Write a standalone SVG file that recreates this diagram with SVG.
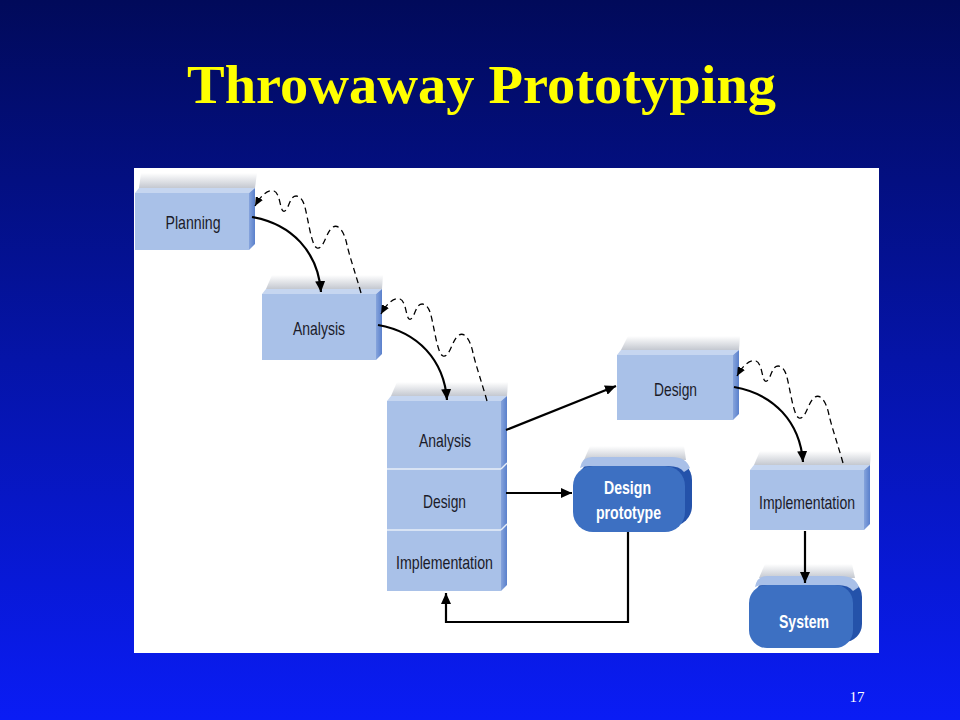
<svg xmlns="http://www.w3.org/2000/svg" width="960" height="720" viewBox="0 0 960 720">
<defs>
<linearGradient id="bg" x1="0" y1="0" x2="0" y2="1">
<stop offset="0" stop-color="#010a5a"/>
<stop offset="0.5" stop-color="#0514a8"/>
<stop offset="1" stop-color="#0a1cf5"/>
</linearGradient>
<linearGradient id="shade" x1="0" y1="0" x2="0" y2="1">
<stop offset="0" stop-color="#ffffff"/>
<stop offset="1" stop-color="#c4c8d0"/>
</linearGradient>
<linearGradient id="side" x1="0" y1="0" x2="1" y2="0">
<stop offset="0" stop-color="#86a4dc"/>
<stop offset="1" stop-color="#5a80cc"/>
</linearGradient>
<marker id="ah" markerUnits="userSpaceOnUse" markerWidth="12" markerHeight="10" refX="11" refY="5" orient="auto">
<path d="M0,0 L11,5 L0,10 Z" fill="#000"/>
</marker>
<marker id="ahs" markerUnits="userSpaceOnUse" markerWidth="10" markerHeight="8" refX="9" refY="4" orient="auto">
<path d="M0,0 L9,4 L0,8 Z" fill="#000"/>
</marker>
</defs>
<style>
.front{fill:#a9c1e8}
.top{fill:#c6d6f0}
.sidef{fill:url(#side)}
.shadow{fill:url(#shade)}
.lbl{font-family:"Liberation Sans",Arial,sans-serif;font-size:18.5px;fill:#1b1b28;text-anchor:middle}
.wl{font-family:"Liberation Sans",Arial,sans-serif;font-size:19px;font-weight:bold;fill:#ffffff;text-anchor:middle}
.pfront{fill:#3d70c2}
.ptop{fill:#a9c0e8}
.pside{fill:#2452aa}
.solid{fill:none;stroke:#000;stroke-width:2.2}
.dash{fill:none;stroke:#000;stroke-width:1.3;stroke-dasharray:6 4}
</style>
<rect x="0" y="0" width="960" height="720" fill="url(#bg)"/>
<text x="481.5" y="103" font-family="'Liberation Serif','Times New Roman',serif" font-size="54" font-weight="bold" fill="#ffff00" text-anchor="middle" textLength="589" lengthAdjust="spacingAndGlyphs">Throwaway Prototyping</text>
<rect x="134" y="168" width="745" height="485" fill="#ffffff"/>

<g id="planning">
<polygon class="shadow" points="141,173 257,173 255,188 139,188"/>
<polygon class="top" points="139,188 255,188 249,193 135,193"/>
<polygon class="sidef" points="249,193 255,188 255,244 249,250"/>
<rect class="front" x="135" y="193" width="114" height="57"/>
<text class="lbl" x="193" y="229" textLength="55" lengthAdjust="spacingAndGlyphs">Planning</text>
</g>

<g id="analysis1">
<polygon class="shadow" points="272,275 383,275 382,289 266,289"/>
<polygon class="top" points="266,289 382,289 376,294 262,294"/>
<polygon class="sidef" points="376,294 382,289 382,354 376,360"/>
<rect class="front" x="262" y="294" width="114" height="66"/>
<text class="lbl" x="319" y="335" textLength="52" lengthAdjust="spacingAndGlyphs">Analysis</text>
</g>

<g id="stack">
<polygon class="shadow" points="397,382 508,382 507,396 391,396"/>
<polygon class="top" points="391,396 507,396 501,401 387,401"/>
<polygon class="sidef" points="501,401 507,396 507,585 501,591"/>
<rect class="front" x="387" y="401" width="114" height="190"/>
<line x1="387" y1="469" x2="501" y2="469" stroke="#e8eef8" stroke-width="1.5"/>
<line x1="501" y1="469" x2="507" y2="463" stroke="#e8eef8" stroke-width="1.5"/>
<line x1="387" y1="530" x2="501" y2="530" stroke="#e8eef8" stroke-width="1.5"/>
<line x1="501" y1="530" x2="507" y2="524" stroke="#e8eef8" stroke-width="1.5"/>
<text class="lbl" x="445" y="447" textLength="52" lengthAdjust="spacingAndGlyphs">Analysis</text>
<text class="lbl" x="444.5" y="508" textLength="43" lengthAdjust="spacingAndGlyphs">Design</text>
<text class="lbl" x="444.5" y="569" textLength="97" lengthAdjust="spacingAndGlyphs">Implementation</text>
</g>

<g id="design2">
<polygon class="shadow" points="628,336 740,336 739,350 621,350"/>
<polygon class="top" points="621,350 739,350 733,355 617,355"/>
<polygon class="sidef" points="733,355 739,350 739,414 733,420"/>
<rect class="front" x="617" y="355" width="116" height="65"/>
<text class="lbl" x="675.5" y="396" textLength="43" lengthAdjust="spacingAndGlyphs">Design</text>
</g>

<g id="implementation2">
<polygon class="shadow" points="760,451 871,451 870,465 754,465"/>
<polygon class="top" points="754,465 870,465 864,470 750,470"/>
<polygon class="sidef" points="864,470 870,465 870,524 864,530"/>
<rect class="front" x="750" y="470" width="114" height="60"/>
<text class="lbl" x="807" y="509" textLength="96" lengthAdjust="spacingAndGlyphs">Implementation</text>
</g>

<g id="prototype">
<polygon class="shadow" points="590,446 684,446 686,460 584,460"/>
<rect class="pside" x="579" y="460" width="113" height="66" rx="20"/>
<path class="ptop" d="M592,457 L672,457 Q686,457 690,468 L684,472 Q680,466 668,466 L590,466 Q584,466 580,468 Q582,457 592,457 Z"/>
<rect class="pfront" x="573" y="466" width="112" height="66" rx="20"/>
<text class="wl" x="627.5" y="494" textLength="47" lengthAdjust="spacingAndGlyphs">Design</text>
<text class="wl" x="628.5" y="519" textLength="65" lengthAdjust="spacingAndGlyphs">prototype</text>
</g>

<g id="system">
<polygon class="shadow" points="765,564 852,564 855,578 759,578"/>
<rect class="pside" x="755" y="579" width="107" height="63" rx="18"/>
<path class="ptop" d="M767,576 L841,576 Q855,576 859,587 L853,591 Q849,585 837,585 L765,585 Q759,585 755,587 Q757,576 767,576 Z"/>
<rect class="pfront" x="749" y="585" width="104" height="63" rx="18"/>
<text class="wl" x="804" y="628" textLength="50" lengthAdjust="spacingAndGlyphs">System</text>
</g>

<g id="connectors">
<g id="pair1">
<path class="solid" d="M252,217 C292,224 318,252 321,292" marker-end="url(#ah)"/>
<path class="dash" d="M361,293 C356,275 350,258 347,245 C344,230 338,224 333,227 C326,231 324,250 317,248 C311,246 308,216 304,204 C301,196 296,194 292,198 C289,202 287,213 283,211 C280,209 280,193 274,191 C267,189 260,197 255,206" marker-end="url(#ahs)"/>
</g>
<g id="pair2" transform="translate(126,108)">
<path class="solid" d="M252,217 C292,224 318,252 321,292" marker-end="url(#ah)"/>
<path class="dash" d="M361,293 C356,275 350,258 347,245 C344,230 338,224 333,227 C326,231 324,250 317,248 C311,246 308,216 304,204 C301,196 296,194 292,198 C289,202 287,213 283,211 C280,209 280,193 274,191 C267,189 260,197 255,206" marker-end="url(#ahs)"/>
</g>
<g id="pair3" transform="translate(482,170)">
<path class="solid" d="M252,217 C292,224 318,252 321,292" marker-end="url(#ah)"/>
<path class="dash" d="M361,293 C356,275 350,258 347,245 C344,230 338,224 333,227 C326,231 324,250 317,248 C311,246 308,216 304,204 C301,196 296,194 292,198 C289,202 287,213 283,211 C280,209 280,193 274,191 C267,189 260,197 255,206" marker-end="url(#ahs)"/>
</g>
<path class="solid" d="M506,430 L616,386" marker-end="url(#ah)"/>
<path class="solid" d="M506,493 L572,493" marker-end="url(#ah)"/>
<path class="solid" d="M628,532 L628,622 L446,622 L446,593" marker-end="url(#ah)"/>
<path class="solid" d="M805,531 L805,583" marker-end="url(#ah)"/>
</g>
<text x="857" y="702" font-family="'Liberation Serif','Times New Roman',serif" font-size="15" fill="#ffffff" text-anchor="middle">17</text>
</svg>
